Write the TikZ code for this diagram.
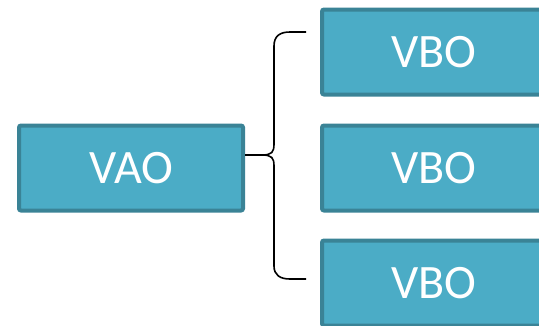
\documentclass[tikz,border=0pt]{standalone}
\usepackage{fontspec}
\setmainfont{Carlito}
\usetikzlibrary{positioning, calc}
\definecolor{Aqua}{HTML}{4BACC6}
\definecolor{AquaLine}{HTML}{3A8396}
\definecolor{Ink}{HTML}{000000}

\begin{document}
\begin{tikzpicture}[
  x=1pt, y=-1pt,
  bufbox/.style={
    rounded corners=2pt,
    draw=AquaLine,
    line width=4pt,
    fill=Aqua,
    text=white,
    font=\fontsize{48}{52}\selectfont,
    minimum width=224pt,
    minimum height=85pt,
    inner sep=0pt
  },
  brace/.style={
    draw=Ink,
    line width=1.6pt
  }
]

\useasboundingbox (0,0) rectangle (539,325);

\node[bufbox] (vao) at (131,168) {VAO};
\node[bufbox] (vbo1) at (434,52) {VBO};
\node[bufbox] (vbo2) at (434,168) {VBO};
\node[bufbox] (vbo3) at (434,283) {VBO};

% brace ends
\coordinate (pinch) at ($(vao.east)+(17,-13)$);
\coordinate (tip1) at ($(vbo1.west)+(-14,-20)$);
\coordinate (tip3) at ($(vbo3.west)+(-14,-4)$);

\draw[brace] ($(vao.east)+(0,-13)$) -- (pinch);
\draw[brace] (pinch) .. controls ++(10,0) and (274,152) .. (274,144)
  -- (274,46) .. controls (274,36) and (280,32) .. (290,32) -- (tip1);
\draw[brace] (pinch) .. controls ++(10,0) and (274,158) .. (274,166)
  -- (274,266) .. controls (274,275) and (280,279) .. (290,279) -- (tip3);

\end{tikzpicture}
\end{document}
